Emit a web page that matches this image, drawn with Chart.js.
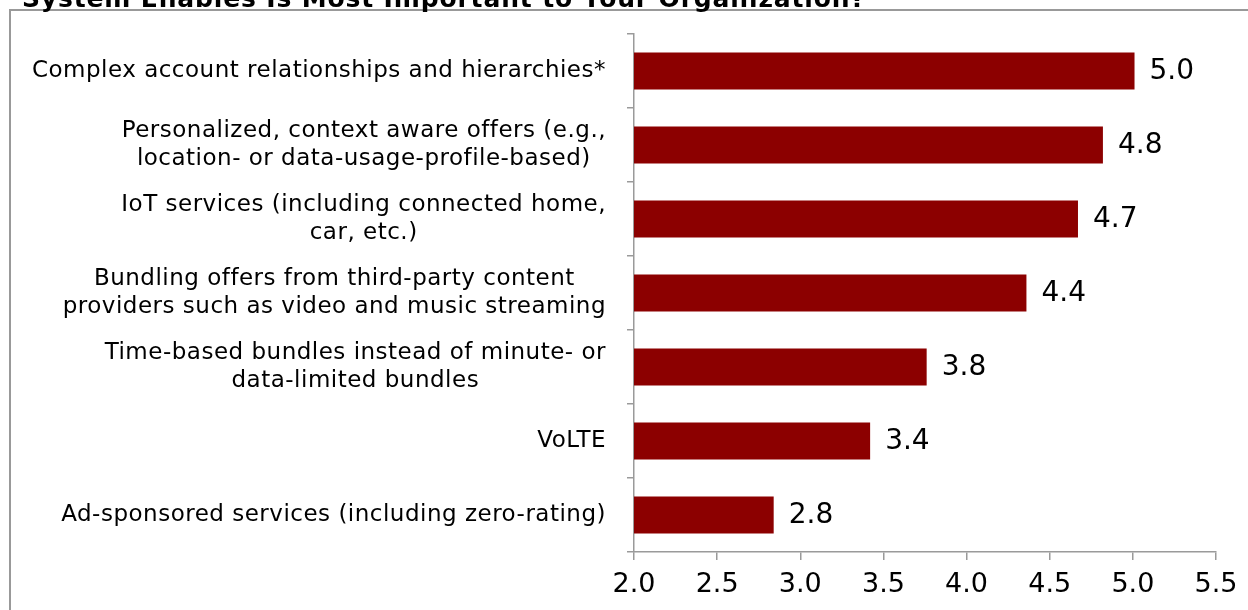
<!DOCTYPE html>
<html>
<head>
<meta charset="utf-8">
<script src="https://cdn.jsdelivr.net/npm/chart.js@4/dist/chart.umd.min.js"></script>
<style>
  html, body { margin: 0; padding: 0; background: #ffffff; }
  #wrap { position: relative; width: 1248px; height: 610px; overflow: hidden; }
  canvas { position: absolute; left: 0; top: 0; }
</style>
</head>
<body>
<div id="wrap"><canvas id="c" width="1248" height="610"></canvas></div>
<script>
const titleText = "System Enables Is Most Important to Your Organization?";
const categories = [
  "Complex account relationships and hierarchies*",
  ["Personalized, context aware offers (e.g.,", "location- or data-usage-profile-based)"],
  ["IoT services (including connected home,", "car, etc.)"],
  ["Bundling offers from third-party content", "providers such as video and music streaming"],
  ["Time-based bundles instead of minute- or", "data-limited bundles"],
  "VoLTE",
  "Ad-sponsored services (including zero-rating)"
];
const values = [5.01, 4.82, 4.67, 4.36, 3.76, 3.42, 2.84];
const xTicks = [2.0, 2.5, 3.0, 3.5, 4.0, 4.5, 5.0, 5.5];

const FONT = '"DejaVu Sans", Verdana, sans-serif';
const AXIS_GREY = '#9a9a9a';

const decorPlugin = {
  id: 'decor',
  beforeDraw(chart) {
    const ctx = chart.ctx;
    ctx.save();
    ctx.fillStyle = '#ffffff';
    ctx.fillRect(0, 0, chart.width, chart.height);
    // frame
    ctx.strokeStyle = '#999999';
    ctx.lineWidth = 2;
    ctx.beginPath();
    ctx.moveTo(10, chart.height + 5);
    ctx.lineTo(10, 10);
    ctx.lineTo(chart.width + 5, 10);
    ctx.stroke();
    // title (cropped at top)
    ctx.fillStyle = '#000000';
    ctx.font = 'bold 25px ' + FONT;
    ctx.letterSpacing = '0.85px';
    ctx.textAlign = 'left';
    ctx.textBaseline = 'alphabetic';
    ctx.fillText(titleText, 22, 7);
    ctx.restore();
  },
  afterDraw(chart) {
    const ctx = chart.ctx;
    const ys = chart.scales.y;
    ctx.save();
    ctx.fillStyle = '#000000';
    // category labels: block right-aligned, lines centred within block
    ctx.font = '23px ' + FONT;
    ctx.letterSpacing = '0.5px';
    ctx.textBaseline = 'middle';
    ctx.textAlign = 'center';
    const lineH = 28;
    const rightEdge = ys.right - 28;
    categories.forEach((lab, i) => {
      const lines = Array.isArray(lab) ? lab : [lab];
      const w = Math.max(...lines.map(l => ctx.measureText(l).width));
      const cx = rightEdge - w / 2;
      const py = ys.getPixelForTick(i);
      lines.forEach((l, j) => {
        ctx.fillText(l, cx, py + (j - (lines.length - 1) / 2) * lineH);
      });
    });
    // value labels
    ctx.letterSpacing = '0px';
    ctx.font = '28px ' + FONT;
    ctx.textAlign = 'left';
    const meta = chart.getDatasetMeta(0);
    meta.data.forEach((bar, i) => {
      ctx.fillText(values[i].toFixed(1), bar.x + 15, bar.y + 1);
    });
    ctx.restore();
  }
};

new Chart(document.getElementById('c'), {
  type: 'bar',
  data: {
    labels: categories,
    datasets: [{
      data: values,
      backgroundColor: '#8c0000',
      borderWidth: 0,
      barPercentage: 0.5,
      categoryPercentage: 1.0
    }]
  },
  options: {
    indexAxis: 'y',
    responsive: false,
    animation: false,
    devicePixelRatio: 1,
    layout: { padding: { top: 34, right: 32, left: 0, bottom: 0 } },
    plugins: {
      legend: { display: false },
      tooltip: { enabled: false },
      title: { display: false }
    },
    scales: {
      x: {
        type: 'linear',
        min: xTicks[0],
        max: xTicks[xTicks.length - 1],
        afterBuildTicks(scale) { scale.ticks = xTicks.map(v => ({ value: v })); },
        afterFit(scale) { scale.height = 58; },
        border: { display: true, color: AXIS_GREY, width: 1.5 },
        grid: { drawOnChartArea: false, drawTicks: true, tickLength: 8, color: AXIS_GREY, lineWidth: 1.5 },
        ticks: {
          color: '#000000',
          font: { family: FONT, size: 27 },
          padding: 9,
          callback: (v) => Number(v).toFixed(1)
        }
      },
      y: {
        type: 'category',
        offset: true,
        afterFit(scale) { scale.width = 634; },
        border: { display: true, color: AXIS_GREY, width: 1.5 },
        grid: { drawOnChartArea: false, drawTicks: true, tickLength: 7, offset: true, color: AXIS_GREY, lineWidth: 1.5 },
        ticks: { color: 'rgba(0,0,0,0)', font: { family: FONT, size: 20 } }
      }
    }
  },
  plugins: [decorPlugin]
});
</script>
</body>
</html>
